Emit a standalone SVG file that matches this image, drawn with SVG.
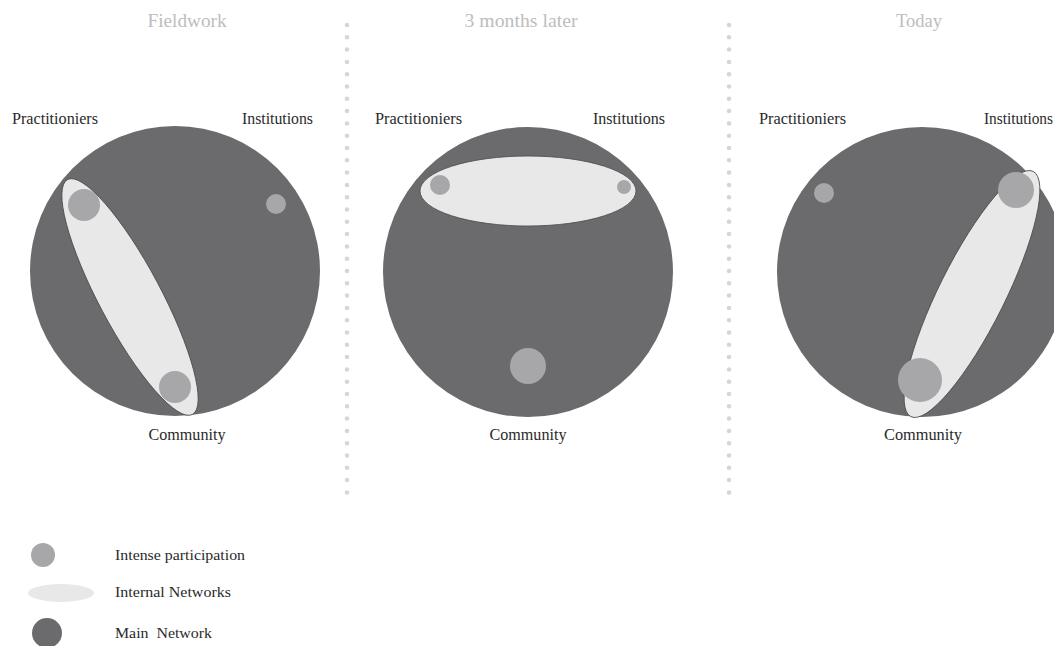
<svg xmlns="http://www.w3.org/2000/svg" width="1054" height="646" viewBox="0 0 1054 646">
<style>
.bg{fill:#ffffff}
.main{fill:#6b6b6d}
.net{fill:#e8e8e8;stroke:#4a4a4a;stroke-width:0.8}
.part{fill:#a7a7a9}
.title{font-family:"Liberation Serif",serif;font-size:18px;fill:#bdbdbd;text-anchor:middle}
.lbl{font-family:"Liberation Serif",serif;font-size:16px;fill:#2a2a2a}
.com{font-family:"Liberation Serif",serif;font-size:16px;fill:#2a2a2a;text-anchor:middle}
.leg{font-family:"Liberation Serif",serif;font-size:15px;fill:#2a2a2a}
.sep{stroke:#d6d6d6;stroke-width:4.5;stroke-linecap:round;stroke-dasharray:0 12.3;fill:none}
</style>
<rect class="bg" x="0" y="0" width="1054" height="646"/>
<g id="separators">
<line class="sep" x1="347" y1="25" x2="347" y2="493"/>
<line class="sep" x1="729" y1="25" x2="729" y2="493"/>
</g>
<g id="panel-fieldwork">
<text class="title" x="187" y="27" textLength="79" lengthAdjust="spacingAndGlyphs">Fieldwork</text>
<text class="lbl" x="12" y="124" textLength="86" lengthAdjust="spacingAndGlyphs">Practitioniers</text>
<text class="lbl" x="242" y="124" textLength="71" lengthAdjust="spacingAndGlyphs">Institutions</text>
<circle class="main" cx="175" cy="271" r="145"/>
<ellipse class="net" cx="130" cy="297" rx="133" ry="31" transform="rotate(62 130 297)"/>
<circle class="part" cx="84" cy="205" r="16"/>
<circle class="part" cx="175" cy="387" r="16"/>
<circle class="part" cx="276" cy="204" r="10"/>
<text class="com" x="187" y="440" textLength="77" lengthAdjust="spacingAndGlyphs">Community</text>
</g>
<g id="panel-3months">
<text class="title" x="521" y="27" textLength="113" lengthAdjust="spacingAndGlyphs">3 months later</text>
<text class="lbl" x="375" y="124" textLength="87" lengthAdjust="spacingAndGlyphs">Practitioniers</text>
<text class="lbl" x="593" y="124" textLength="72" lengthAdjust="spacingAndGlyphs">Institutions</text>
<circle class="main" cx="528" cy="272" r="145"/>
<ellipse class="net" cx="528" cy="191" rx="108" ry="35"/>
<circle class="part" cx="440" cy="185" r="10"/>
<circle class="part" cx="624" cy="187" r="7"/>
<circle class="part" cx="528" cy="366" r="18"/>
<text class="com" x="528" y="440" textLength="77" lengthAdjust="spacingAndGlyphs">Community</text>
</g>
<g id="panel-today">
<text class="title" x="919" y="27" textLength="46" lengthAdjust="spacingAndGlyphs">Today</text>
<text class="lbl" x="759" y="124" textLength="87" lengthAdjust="spacingAndGlyphs">Practitioniers</text>
<text class="lbl" x="984" y="124" textLength="69" lengthAdjust="spacingAndGlyphs">Institutions</text>
<circle class="main" cx="922" cy="272" r="145"/>
<ellipse class="net" cx="972" cy="294" rx="137" ry="33" transform="rotate(-63.5 972 294)"/>
<circle class="part" cx="1016" cy="190" r="18"/>
<circle class="part" cx="920" cy="380" r="22"/>
<circle class="part" cx="824" cy="193" r="10"/>
<text class="com" x="923" y="440" textLength="78" lengthAdjust="spacingAndGlyphs">Community</text>
</g>
<g id="legend">
<circle class="part" cx="43" cy="555" r="12"/>
<text class="leg" x="115" y="560" textLength="130" lengthAdjust="spacingAndGlyphs">Intense participation</text>
<ellipse cx="61" cy="593" rx="33" ry="9" fill="#e8e8e8"/>
<text class="leg" x="115" y="597" textLength="116" lengthAdjust="spacingAndGlyphs">Internal Networks</text>
<circle class="main" cx="47" cy="633" r="15"/>
<text class="leg" x="115" y="638" textLength="97" lengthAdjust="spacingAndGlyphs">Main&#160; Network</text>
</g>
</svg>
